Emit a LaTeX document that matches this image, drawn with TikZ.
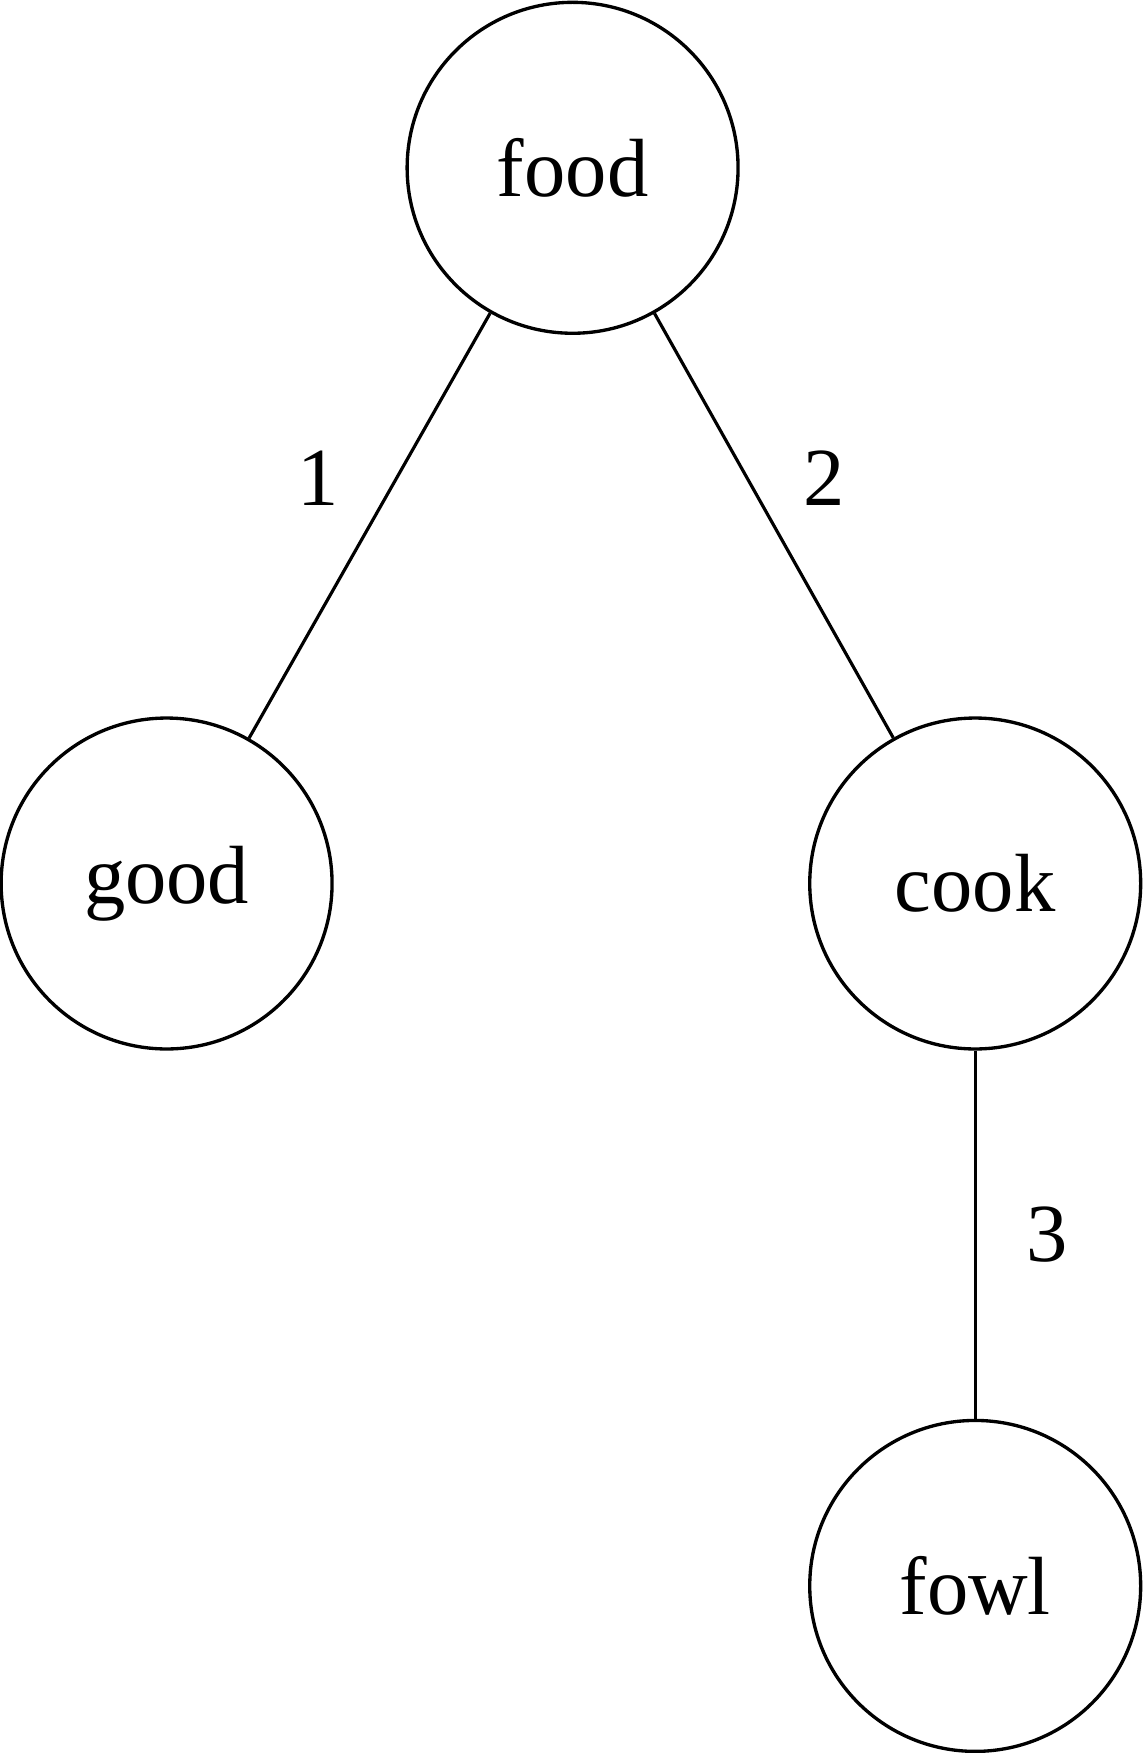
\documentclass[tikz,border=0pt]{standalone}
\usepackage{fontspec}
\setmainfont{Liberation Serif}
\begin{document}
\begin{tikzpicture}[x=0.02cm, y=-0.02cm,
  word/.style={draw, circle, line width=1.9pt, minimum size=6.62cm, inner sep=0pt,
    font=\fontsize{47}{56}\selectfont},
  link/.style={line width=1.8pt},
  weight/.style={font=\fontsize{47}{56}\selectfont, inner sep=0pt}]
  \useasboundingbox (0,0) rectangle (1143,1753);
  % tree nodes
  \node[word] (food) at (572.6,167.8) {food};
  \node[word] (good) at (166.6,883.5) {good};
  \node[word] (cook) at (975.2,883.5) {cook};
  \node[word] (fowl) at (975.2,1585.9) {fowl};
  % weighted edges
  \draw[link] (food) -- node[weight, xshift=-1.02cm, yshift=0.94cm] {1} (good);
  \draw[link] (food) -- node[weight, xshift=1.0cm, yshift=0.94cm] {2} (cook);
  \draw[link] (cook) -- node[weight, xshift=1.43cm] {3} (fowl);
\end{tikzpicture}
\end{document}
